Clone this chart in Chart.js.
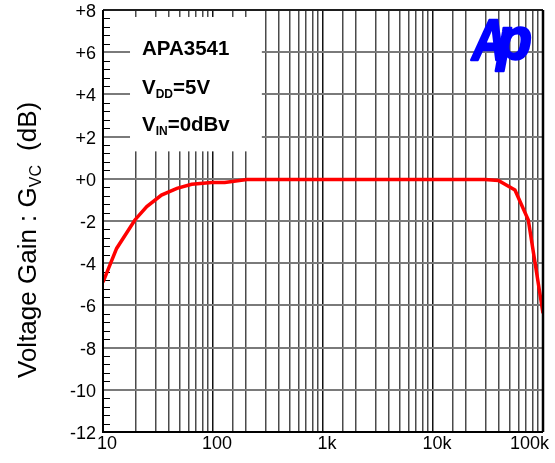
<!DOCTYPE html>
<html>
<head>
<meta charset="utf-8">
<script src="https://cdn.jsdelivr.net/npm/chart.js@4/dist/chart.umd.min.js"></script>
<style>
  html, body { margin: 0; padding: 0; background: #fff; }
  #wrap { width: 555px; height: 463px; }
</style>
</head>
<body>
<div id="wrap"><canvas id="grafico" width="555" height="463"></canvas></div>
<script>
// frequency (Hz) and gain (dB)
const freqHz = [10, 13.3, 19.5, 25, 34, 47, 64, 97, 128, 203, 500, 1000, 5000, 10000, 29700, 39300, 55600, 73500, 100000];
const gainDb = [-4.9, -3.3, -1.95, -1.32, -0.77, -0.45, -0.26, -0.18, -0.17, -0.03, -0.03, -0.03, -0.03, -0.03, -0.03, -0.08, -0.53, -1.95, -6.37];

const xTickValues = [10, 100, 1000, 10000, 100000];
const xTickLabels = ["10", "100", "1k", "10k", "100k"];
const yTickValues = [8, 6, 4, 2, 0, -2, -4, -6, -8, -10, -12];
const yTickLabels = ["+8", "+6", "+4", "+2", "+0", "-2", "-4", "-6", "-8", "-10", "-12"];

const infoLinhas = [
  ["APA3541", "", ""],
  ["V", "DD", "=5V"],
  ["V", "IN", "=0dBv"],
];

const FONTE = "Arial, 'Liberation Sans', sans-serif";

const pontos = freqHz.map((f, i) => ({ x: f, y: gainDb[i] }));

const ehDecada = (v) => Math.abs(Math.log10(v) - Math.round(Math.log10(v))) < 1e-6;

const pluginDesenho = {
  id: "desenho",
  beforeDatasetsDraw(chart) {
    const { ctx, scales } = chart;
    const x = scales.x, y = scales.y;
    const area = chart.chartArea;

    // minor ticks on the left axis (every 0.4 dB)
    ctx.save();
    ctx.strokeStyle = "#000";
    ctx.lineWidth = 1;
    for (let k = 0; k <= 50; k++) {
      const v = -12 + k * 0.4;
      if (Math.abs(v / 2 - Math.round(v / 2)) < 1e-6) continue;
      const py = Math.round(y.getPixelForValue(v)) + 0.5;
      ctx.beginPath();
      ctx.moveTo(area.left, py);
      ctx.lineTo(area.left + 7, py);
      ctx.stroke();
    }
    ctx.restore();

    // white label box
    const bx1 = x.getPixelForValue(17.6), bx2 = x.getPixelForValue(278);
    const by1 = y.getPixelForValue(7.67), by2 = y.getPixelForValue(1.3);
    ctx.save();
    ctx.fillStyle = "#fff";
    ctx.fillRect(bx1, by1, bx2 - bx1, by2 - by1);

    ctx.fillStyle = "#000";
    ctx.textBaseline = "alphabetic";
    const baselines = [55, 94, 131];
    infoLinhas.forEach((linha, i) => {
      let px = 142;
      ctx.font = "bold 20.5px " + FONTE;
      ctx.fillText(linha[0], px, baselines[i]);
      px += ctx.measureText(linha[0]).width;
      if (linha[1]) {
        ctx.font = "bold 12px " + FONTE;
        ctx.fillText(linha[1], px, baselines[i] + 4);
        px += ctx.measureText(linha[1]).width;
      }
      if (linha[2]) {
        ctx.font = "bold 20.5px " + FONTE;
        ctx.fillText(linha[2], px, baselines[i]);
      }
    });
    ctx.restore();
  },
  afterDraw(chart) {
    const { ctx, scales } = chart;
    const x = scales.x, y = scales.y;
    const area = chart.chartArea;

    // frame
    ctx.save();
    ctx.strokeStyle = "#000";
    ctx.lineWidth = 1.5;
    ctx.beginPath();
    ctx.moveTo(area.left, area.top);
    ctx.lineTo(area.right, area.top);
    ctx.stroke();
    ctx.lineWidth = 2.5;
    ctx.beginPath();
    ctx.moveTo(area.right, area.top);
    ctx.lineTo(area.right, area.bottom);
    ctx.stroke();
    ctx.lineWidth = 2;
    ctx.beginPath();
    ctx.moveTo(area.left, area.top);
    ctx.lineTo(area.left, area.bottom);
    ctx.lineTo(area.right, area.bottom);
    ctx.stroke();
    ctx.restore();

    // logo
    ctx.save();
    ctx.fillStyle = "#0000ff";
    ctx.strokeStyle = "#0000ff";
    ctx.lineWidth = 2.5;
    ctx.lineJoin = "round";
    ctx.textBaseline = "alphabetic";
    ctx.font = "italic bold 58px " + FONTE;
    ctx.save();
    ctx.translate(472, 60);
    ctx.scale(0.82, 1);
    ctx.fillText("A", 0, 0);
    ctx.strokeText("A", 0, 0);
    ctx.restore();
    ctx.save();
    ctx.font = "italic bold 60px " + FONTE;
    ctx.translate(497, 59);
    ctx.scale(0.95, 1);
    ctx.fillText("p", 0, 0);
    ctx.strokeText("p", 0, 0);
    ctx.restore();
    ctx.restore();

    // y tick labels
    ctx.save();
    ctx.fillStyle = "#000";
    ctx.font = "18px " + FONTE;
    ctx.textAlign = "right";
    ctx.textBaseline = "middle";
    yTickValues.forEach((v, i) => {
      ctx.fillText(yTickLabels[i], 96, y.getPixelForValue(v) + 2);
    });

    // x tick labels
    ctx.textAlign = "center";
    ctx.textBaseline = "alphabetic";
    xTickValues.forEach((v, i) => {
      const w = ctx.measureText(xTickLabels[i]).width;
      let px = x.getPixelForValue(v) + 4;
      px = Math.min(px, 549 - w / 2);
      ctx.fillText(xTickLabels[i], px, 449);
    });

    // y axis title
    ctx.translate(36, 378);
    ctx.rotate(-Math.PI / 2);
    ctx.textAlign = "left";
    let tx = 0;
    ctx.font = "26px " + FONTE;
    ctx.fillText("Voltage Gain : G", tx, 0);
    tx += ctx.measureText("Voltage Gain : G").width;
    ctx.font = "16px " + FONTE;
    ctx.fillText("VC", tx, 5);
    tx += ctx.measureText("VC").width + 14;
    ctx.font = "26px " + FONTE;
    ctx.fillText("(dB)", tx, 0);
    ctx.restore();
  },
};

new Chart(document.getElementById("grafico").getContext("2d"), {
  type: "line",
  data: {
    datasets: [
      {
        data: pontos,
        borderColor: "#ff0000",
        borderWidth: 3.5,
        pointRadius: 0,
        tension: 0,
        fill: false,
      },
    ],
  },
  options: {
    responsive: false,
    animation: false,
    layout: { padding: { left: 103, right: 12, top: 10, bottom: 31 } },
    plugins: { legend: { display: false }, tooltip: { enabled: false } },
    scales: {
      x: {
        type: "logarithmic",
        min: 10,
        max: 100000,
        ticks: { display: false },
        border: { display: false },
        grid: {
          drawTicks: false,
          lineWidth: 1.5,
          color: (c) => (c.tick && ehDecada(c.tick.value) ? "#111" : "#4a4a4a"),
        },
      },
      y: {
        min: -12,
        max: 8,
        ticks: { display: false, stepSize: 2 },
        border: { display: false },
        grid: { drawTicks: false, lineWidth: 2, color: "#7a7a7a" },
      },
    },
  },
  plugins: [pluginDesenho],
});
</script>
</body>
</html>
